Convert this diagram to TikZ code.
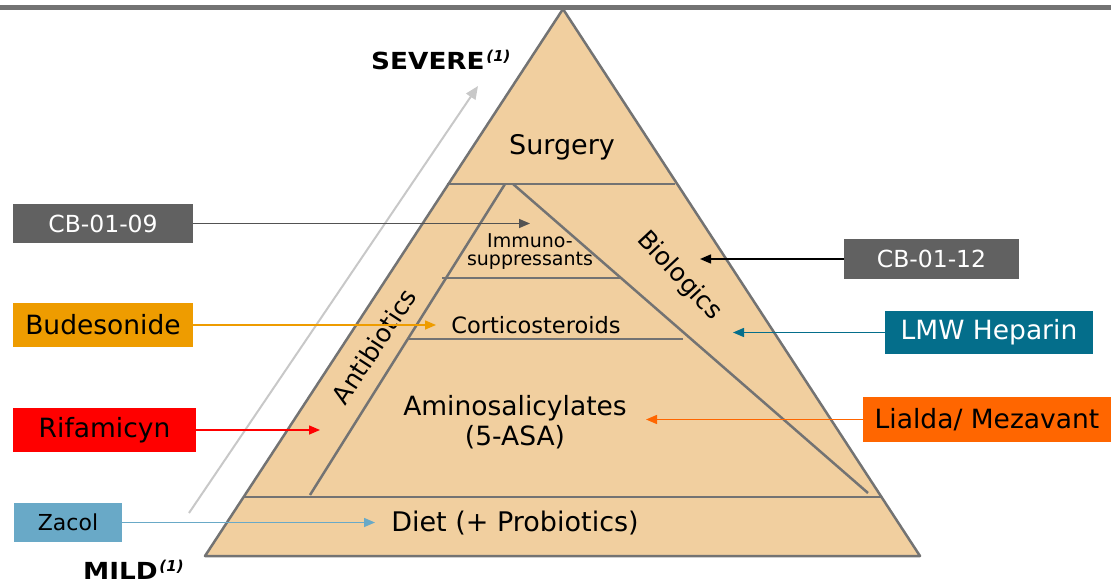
\documentclass[tikz,border=0pt]{standalone}
\usepackage{fontspec}
\setmainfont{DejaVu Sans}
\usetikzlibrary{arrows.meta}
\definecolor{pyr}{HTML}{F1CF9F}
\definecolor{edgec}{HTML}{737373}
\definecolor{cbgray}{HTML}{616161}
\definecolor{budc}{HTML}{EE9C00}
\definecolor{zacc}{HTML}{69A9C7}
\definecolor{lmwc}{HTML}{046E8B}
\definecolor{liac}{HTML}{FF6600}
\definecolor{lightg}{HTML}{C8C8C8}
\newcommand{\fsz}[1]{\fontsize{#1}{#1}\selectfont}
\tikzset{
  pline/.style={draw=edgec, line width=2.5pt},
  lbox/.style={inner sep=0pt, anchor=center, font=\fsz{26.5}},
  conn/.style={line width=1.5pt, -{Triangle[length=11pt,width=9pt]}},
  ptext/.style={inner sep=0pt, anchor=center, text=black, align=center},
  sevtext/.style={inner sep=0pt, anchor=base west}
}
\begin{document}
\begin{tikzpicture}[x=1pt,y=-1pt]
\useasboundingbox (0,0) rectangle (1111,580);
\fill[edgec] (0,5) rectangle (1111,10);
% pyramid
\coordinate (apex) at (563,9);
\coordinate (bl) at (205,556);
\coordinate (br) at (920,556);
\filldraw[fill=pyr, pline, line join=round] (apex) -- (bl) -- (br) -- cycle;
\draw[pline] (447,184) -- (675,184);
\draw[pline] (505,184) -- (310,495);
\draw[pline] (513,184) -- (868,493);
\draw[pline] (442,278) -- (620,278);
\draw[pline] (408,339) -- (683,339);
\draw[pline] (244,497) -- (882,497);
% severity arrow
\coordinate (mildend) at (189,513);
\coordinate (sevend) at (478,86);
\draw[lightg, line width=2pt, -{Triangle[length=13pt,width=11pt]}] (mildend) -- (sevend);
\node[sevtext] (severe) at (371,70) {\scalebox{1.12}[1]{\fsz{23.5}\bfseries SEVERE}\,\raisebox{8pt}{\fsz{15}\bfseries\itshape (1)}};
\node[sevtext] (mild) at (83,579) {\scalebox{1.12}[1]{\fsz{23.5}\bfseries MILD}\,\raisebox{8pt}{\fsz{15}\bfseries\itshape (1)}};
% pyramid texts
\node[ptext, font=\fsz{27}] (surgery) at (562,147) {Surgery};
\node[ptext, font=\fsz{19}, align=center] (immuno) at (530,252) {Immuno-\\[-1pt]suppressants};
\node[ptext, font=\fsz{22.5}] (cortico) at (536,325) {Corticosteroids};
\node[ptext, font=\fsz{26.5}] (amino) at (515,422) {Aminosalicylates\\[3pt](5-ASA)};
\node[ptext, font=\fsz{27}] (diet) at (515,523) {Diet (+ Probiotics)};
\node[ptext, font=\fsz{25}, rotate=56.8] (antib) at (374,346) {Antibiotics};
\node[ptext, font=\fsz{25}, rotate=-47] (biol) at (679,276) {Biologics};
% boxes
\node[lbox, fill=cbgray, text=white, minimum width=180pt, minimum height=39pt, font=\fsz{23.5}] (cb09) at (103,223.5) {CB-01-09};
\node[lbox, fill=cbgray, text=white, minimum width=175pt, minimum height=40pt, font=\fsz{23.5}] (cb12) at (931.5,259) {CB-01-12};
\node[lbox, fill=budc, text=black, minimum width=180pt, minimum height=44pt] (bud) at (103,325) {Budesonide};
\node[lbox, fill=red, text=black, minimum width=183pt, minimum height=44pt] (rif) at (104.5,430) {Rifamicyn};
\node[lbox, fill=zacc, text=black, minimum width=108pt, minimum height=39pt, font=\fsz{22}] (zac) at (68,522.5) {Zacol};
\node[lbox, fill=lmwc, text=white, minimum width=208pt, minimum height=43pt] (lmw) at (989,332.5) {LMW Heparin};
\node[lbox, fill=liac, text=black, minimum width=248pt, minimum height=45pt] (lia) at (987,419.5) {Lialda/ Mezavant};
% arrow targets
\coordinate (t09) at (530,223.5);
\coordinate (t12) at (700,259);
\coordinate (tbud) at (436,325);
\coordinate (trif) at (320,430);
\coordinate (tzac) at (375,522.5);
\coordinate (tlmw) at (733,332.5);
\coordinate (tlia) at (646,419.5);
\draw[conn, draw=cbgray!85!black, fill=cbgray!85!black] (cb09.east) -- (t09);
\draw[conn, draw=black, fill=black] (cb12.west) -- (t12);
\draw[conn, draw=budc, fill=budc] (bud.east) -- (tbud);
\draw[conn, draw=red, fill=red] (rif.east) -- (trif);
\draw[conn, draw=zacc, fill=zacc] (zac.east) -- (tzac);
\draw[conn, draw=lmwc, fill=lmwc] (lmw.west) -- (tlmw);
\draw[conn, draw=liac, fill=liac] (lia.west) -- (tlia);
\end{tikzpicture}
\end{document}
